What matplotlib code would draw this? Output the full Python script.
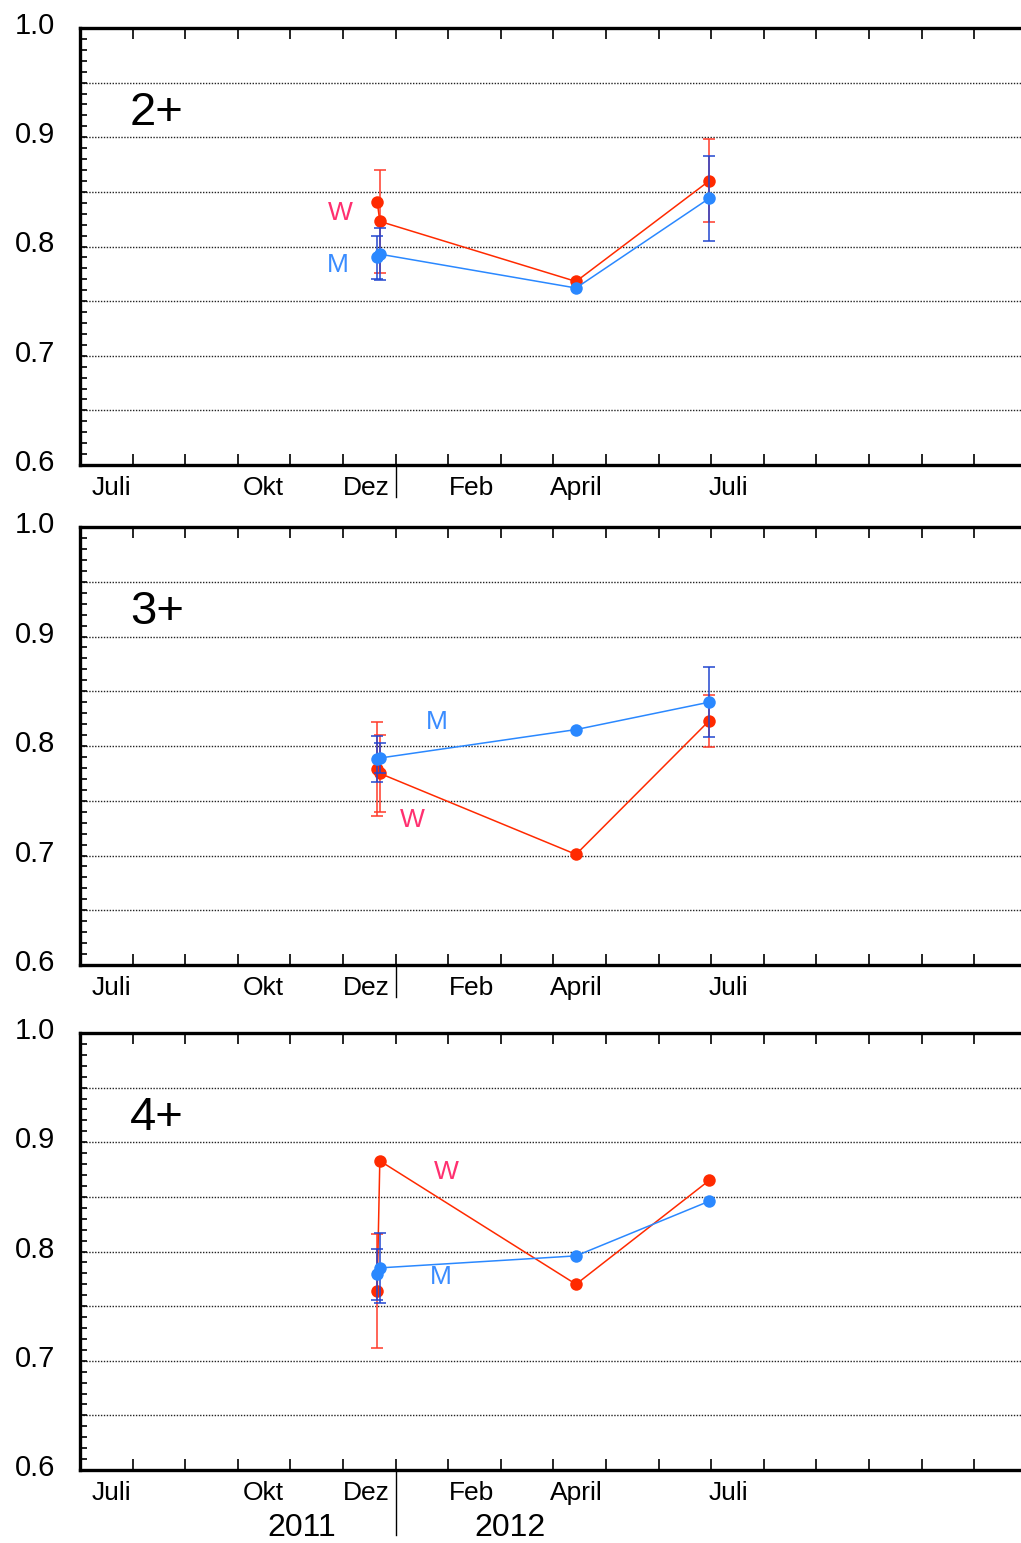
import numpy as np
import matplotlib
matplotlib.use("Agg")
import matplotlib.pyplot as plt
import matplotlib.transforms as mtransforms

plt.rcParams['font.family'] = ['Liberation Sans', 'DejaVu Sans']

# ---- data ----
panels = ["2+", "3+", "4+"]
# x positions in months since 1 July 2011
x_pts = [5.65, 5.70, 9.43, 11.96]

w_vals = {"2+": [0.841, 0.823, 0.768, 0.860],
          "3+": [0.779, 0.775, 0.701, 0.823],
          "4+": [0.764, 0.883, 0.770, 0.865]}
w_errs = {"2+": [0.0, 0.047, 0.0, 0.038],
          "3+": [0.0425, 0.035, 0.0, 0.0235],
          "4+": [0.052, 0.0, 0.0, 0.0]}
m_vals = {"2+": [0.790, 0.793, 0.762, 0.844],
          "3+": [0.788, 0.789, 0.815, 0.840],
          "4+": [0.779, 0.785, 0.796, 0.846]}
m_errs = {"2+": [0.020, 0.024, 0.0, 0.039],
          "3+": [0.021, 0.014, 0.0, 0.032],
          "4+": [0.0235, 0.032, 0.0, 0.0]}

# series label positions (x month, y value)
w_label_pos = {"2+": (4.94, 0.831), "3+": (6.31, 0.732), "4+": (6.96, 0.873)}
m_label_pos = {"2+": (4.90, 0.783), "3+": (6.79, 0.822), "4+": (6.86, 0.777)}

month_labels = ["Juli", "Okt", "Dez", "Feb", "April", "Juli"]
month_label_x = [0.6, 3.49, 5.44, 7.45, 9.43, 12.32]
year_labels = ["2011", "2012"]
year_label_x = [4.22, 8.17]
y_labels = ["0.6", "0.7", "0.8", "0.9", "1.0"]
y_ticks = [0.6, 0.7, 0.8, 0.9, 1.0]

RED = "#ff2a00"
RED_ERR = "#ff3b2a"
BLUE = "#2a88ff"
BLUE_ERR = "#2246d0"
W_TXT = "#ff3070"
M_TXT = "#3a8cff"

W_PX, H_PX = 1021, 1543
fig = plt.figure(figsize=(W_PX / 100, H_PX / 100), dpi=100)

px_per_month = 52.6
left_px = 80
xmax = (W_PX - left_px) / px_per_month
panel_tb = [(28, 465), (527, 965), (1033, 1470)]

for i, (name, (top, bot)) in enumerate(zip(panels, panel_tb)):
    ax = fig.add_axes([left_px / W_PX, 1 - bot / H_PX, 1 - left_px / W_PX, (bot - top) / H_PX])
    ax.set_xlim(0, xmax)
    ax.set_ylim(0.6, 1.0)

    # grid
    for g in np.arange(0.65, 0.99, 0.05):
        ax.axhline(g, color="#222222", lw=1.0, ls=(0, (1, 1.1)), zorder=0)

    # spines
    for s in ["left", "bottom", "top"]:
        ax.spines[s].set_linewidth(2.4)
        ax.spines[s].set_color("black")
    ax.spines["right"].set_visible(False)

    ax.set_xticks(np.arange(1, int(xmax) + 1))
    ax.set_xticklabels([])
    ax.tick_params(axis="x", which="major", direction="in", top=True, bottom=True,
                   length=8, width=1.2, labelbottom=False)
    ax.set_yticks(y_ticks)
    ax.set_yticklabels(y_labels, fontsize=21)
    ax.set_yticks(np.arange(0.6, 1.0001, 0.01), minor=True)
    ax.tick_params(axis="y", which="both", direction="in", length=5, width=1.2,
                   right=False, pad=18)
    for lab in ax.get_yticklabels():
        lab.set_transform(lab.get_transform() +
                          mtransforms.ScaledTranslation(0, 5 / 100, fig.dpi_scale_trans))

    trans = mtransforms.blended_transform_factory(ax.transData, ax.transAxes)
    for lab, xm in zip(month_labels, month_label_x):
        ax.text(xm, -0.053, lab, transform=trans, ha="center", va="center", fontsize=19)
    div_len = -0.149 if i == 2 else -0.073
    ax.plot([6, 6], [0, div_len], transform=trans, color="black", lw=1.0, clip_on=False)
    if i == 2:
        for lab, xm in zip(year_labels, year_label_x):
            ax.text(xm, -0.133, lab, transform=trans, ha="center", va="center", fontsize=23)

    # panel label
    ax.text(1.46, 0.922, name, ha="center", va="center", fontsize=34)

    # series
    for vals, errs, col, ecol, z in [(w_vals[name], w_errs[name], RED, RED_ERR, 3),
                                     (m_vals[name], m_errs[name], BLUE, BLUE_ERR, 4)]:
        ex = [x for x, e in zip(x_pts, errs) if e > 0]
        ey = [v for v, e in zip(vals, errs) if e > 0]
        ee = [e for e in errs if e > 0]
        if ex:
            ax.errorbar(ex, ey, yerr=ee, fmt="none", ecolor=ecol, elinewidth=1.1,
                        capsize=4.5, capthick=1.1, zorder=z - 1)
        ax.plot(x_pts, vals, color=col, lw=1.1, marker="o", markersize=9,
                markeredgewidth=0, zorder=z)

    ax.text(*w_label_pos[name], "W", color=W_TXT, fontsize=19, ha="center", va="center")
    ax.text(*m_label_pos[name], "M", color=M_TXT, fontsize=19, ha="center", va="center")

fig.savefig("out.png", dpi=100)
